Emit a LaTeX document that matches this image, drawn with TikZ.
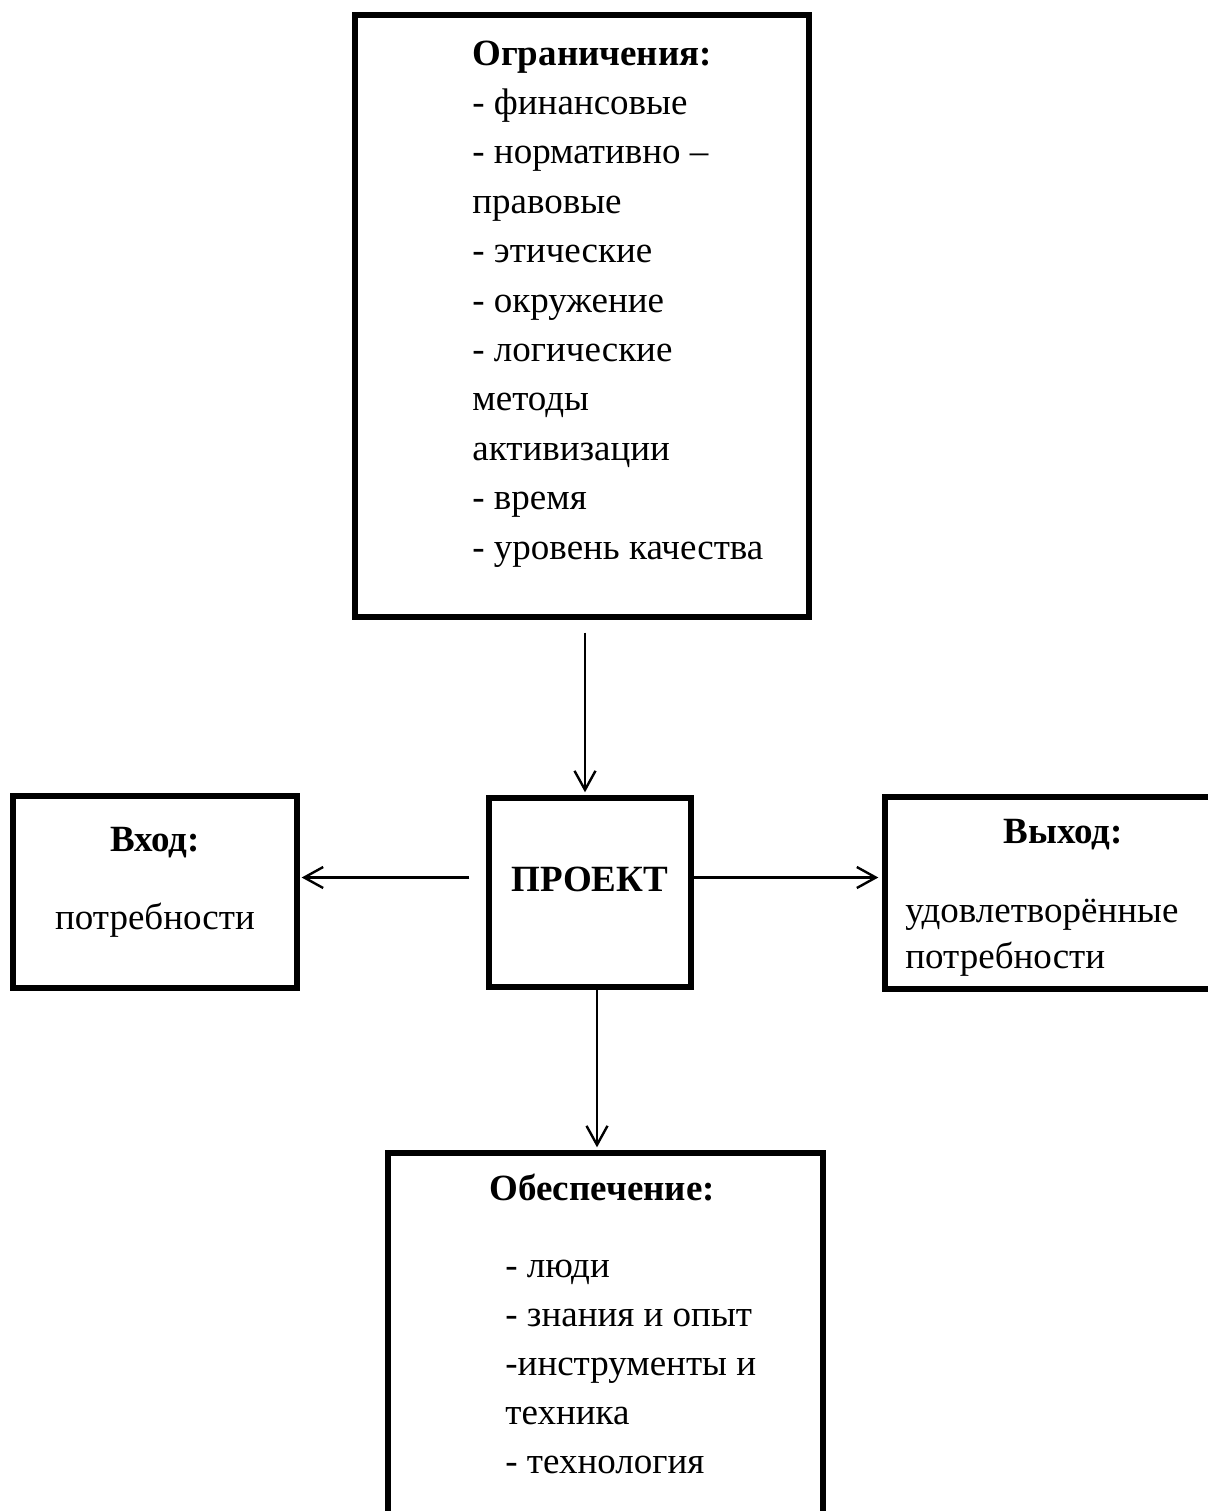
\documentclass[tikz,border=0pt]{standalone}
\usepackage{fontspec}
\setmainfont{Liberation Serif}
\usetikzlibrary{arrows.meta}
\tikzset{%
  blk/.style={draw,line width=2.7pt,inner sep=0},
  txt/.style={inner sep=0,font=\fontsize{18.5}{24.7}\selectfont},
  arr/.style={line width=1.2pt,-{Straight Barb[length=9.5pt,width=10.5pt]}}
}
\begin{document}
\begin{tikzpicture}[x=0.5pt,y=-0.5pt]
  \useasboundingbox (0,0) rectangle (1208,1511);
  \clip (0,0) rectangle (1208,1511);
  % boxes
  \path
    (582,316) node (lim)[blk,minimum width=227pt,minimum height=301pt]{}
    (590,892.5) node (proj)[blk,minimum width=101pt,minimum height=94.5pt]{}
    (155,892) node (inp)[blk,minimum width=142pt,minimum height=96pt]{}
    (1062.5,893) node (outp)[blk,minimum width=177.5pt,minimum height=96pt]{}
    (605.5,1346.5) node (res)[blk,minimum width=217.5pt,minimum height=193.5pt]{};
  % texts (multi-line ones sit on their last line)
  \path
    (472,559) node (limtxt)[txt,anchor=base west,align=left]{\textbf{Ограничения:}\\- финансовые\\- нормативно –\\правовые\\- этические\\- окружение\\- логические\\методы\\активизации\\- время\\- уровень качества}
    (590,891) node (projtxt)[txt,anchor=base]{\textbf{ПРОЕКТ}}
    (155,851) node (inptitle)[txt,anchor=base]{\textbf{Вход:}}
    (155,929) node (inptxt)[txt,anchor=base]{потребности}
    (1063,843) node (outptitle)[txt,anchor=base]{\textbf{Выход:}}
    (905,968) node (outptxt)[txt,anchor=base west,align=left,font=\fontsize{18.5}{23}\selectfont]{удовлетворённые\\потребности}
    (602,1200) node (restitle)[txt,anchor=base]{\textbf{Обеспечение:}}
    (505,1473) node (restxt)[txt,anchor=base west,align=left,font=\fontsize{18.5}{24.4}\selectfont]{- люди\\- знания и опыт\\-инструменты и\\техника\\- технология};
  % connectors
  \draw[arr,shorten <=6.5pt,shorten >=1.5pt] ([xshift=1.5pt]lim.south) -- ([xshift=1.5pt]lim.south |- proj.north);
  \draw[arr,shorten <=8.5pt,shorten >=1pt] ([yshift=7.5pt]proj.west) -- ([yshift=7.5pt]proj.west -| inp.east);
  \draw[arr,shorten >=2pt] ([yshift=7.5pt]proj.east) -- ([yshift=7.5pt]proj.east -| outp.west);
  \draw[arr,shorten >=1.5pt] ([xshift=3.5pt]proj.south) -- ([xshift=3.5pt]proj.south |- res.north);
\end{tikzpicture}
\end{document}
